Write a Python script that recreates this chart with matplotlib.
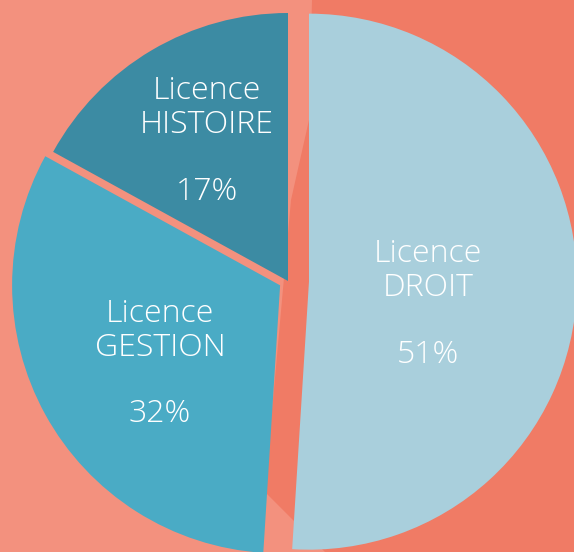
import numpy as np
import matplotlib.pyplot as plt

# data
labels = ["Licence\nDROIT", "Licence\nGESTION", "Licence\nHISTOIRE"]
shares = [51, 32, 17]
colors = ["#A9CFDC", "#4AABC5", "#3C8BA3"]
explode_px = [21, 9, 0]

W, H = 574, 552
R = 268
center = (288, 271)

fig = plt.figure(figsize=(W / 100, H / 100), dpi=100)
fig.patch.set_facecolor("#F3917E")
ax = fig.add_axes([0, 0, 1, 1])

# darker backdrop on the right side
bx = [312, 309, 291, 273, 263, 325, W, W]
by = [H, 432, 352, 152, 62, 0, 0, H]
ax.fill(bx, by, color="#F07B65", lw=0, zorder=0)

wedges, _ = ax.pie(shares, colors=colors, startangle=90, counterclock=False,
                   radius=R, center=center, frame=True,
                   explode=explode_px,
                   wedgeprops=dict(linewidth=0))
for w in wedges:
    w.set_zorder(2)
ax.set_xlim(0, W)
ax.set_ylim(0, H)
ax.set_aspect("equal")
ax.axis("off")

text_pos = [(428, 552 - 271), (160, 552 - 331), (207, 552 - 108)]
pct_pos = [(428, 552 - 355), (160, 552 - 414), (207, 552 - 192)]
font = dict(family=["Open Sans", "DejaVu Sans"], weight="light", color="white", fontsize=23)
for lab, s, (tx, ty), (px, py) in zip(labels, shares, text_pos, pct_pos):
    ax.text(tx, ty, lab, ha="center", va="center", linespacing=1.05, zorder=3, **font)
    ax.text(px, py, f"{s}%", ha="center", va="center", zorder=3, **font)

fig.savefig("out.png", dpi=100, facecolor=fig.get_facecolor())
